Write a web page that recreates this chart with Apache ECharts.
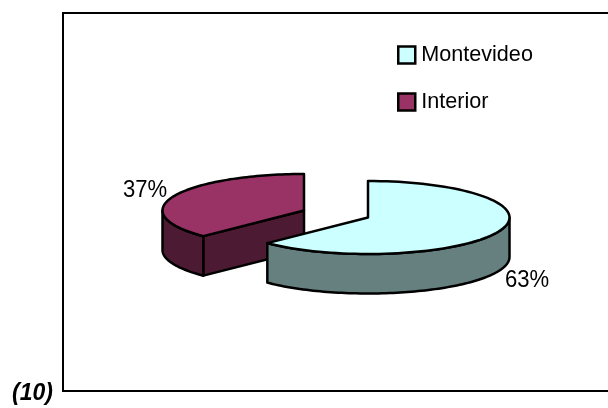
<!DOCTYPE html>
<html><head><meta charset="utf-8">
<style>html,body{margin:0;padding:0;background:#fff}#c{width:608px;height:408px}</style>
<script src="https://cdn.jsdelivr.net/npm/echarts@6/dist/echarts.min.js"></script>
</head><body><div id="c"></div>
<script>
const categories = ['Montevideo', 'Interior'];
const values = [62.6, 37.4];
const note = '(10)';

const topColors = ['#CCFFFF', '#993366'];
const sideColors = ['#668080', '#4D1A33'];
const centers = [[368, 217.5], [304, 210.5]];
const labelPos = [[527, 280], [145, 190]];
const RX = 141.5, RY = 36.5, DEPTH = 39.5;
const FONT = 'Liberation Sans, Arial, sans-serif';
const LINE = { stroke: '#000', lineWidth: 2.5, lineJoin: 'round' };

const total = values.reduce((a, b) => a + b, 0);
function arc(c, from, to) {
  const pts = [], n = 90;
  for (let i = 0; i <= n; i++) {
    const t = (from + (to - from) * i / n) * Math.PI / 180;
    pts.push([c[0] + RX * Math.sin(t), c[1] - RY * Math.cos(t)]);
  }
  return pts;
}
const drop = pts => pts.map(p => [p[0], p[1] + DEPTH]).reverse();
const poly = (points, fill) => ({ type: 'polygon', shape: { points }, style: { fill, ...LINE } });

function renderSlice(params) {
  const i = params.seriesIndex === 0 ? 1 : 0;     // Interior is painted first, Montevideo over it
  const before = values.slice(0, i).reduce((a, b) => a + b, 0);
  const a0 = before / total * 360, a1 = (before + values[i]) / total * 360;
  const c = centers[i], side = sideColors[i], children = [];
  const w0 = Math.max(a0, 90), w1 = Math.min(a1, 270);
  if (a0 > 180 && a0 < 360) {
    const tip = arc(c, a0, a0)[0];
    children.push(poly([c, tip, [tip[0], tip[1] + DEPTH], [c[0], c[1] + DEPTH]], side));
  }
  if (w1 > w0) {
    const rim = arc(c, w0, w1);
    children.push(poly(rim.concat(drop(rim)), side));
  }
  children.push(poly([c].concat(arc(c, a0, a1)), topColors[i]));
  children.push({
    type: 'text',
    x: labelPos[i][0], y: labelPos[i][1], scaleX: 0.92,
    style: {
      text: Math.round(values[i] / total * 100) + '%',
      align: 'center', verticalAlign: 'middle',
      fill: '#000', font: '24px ' + FONT
    }
  });
  return { type: 'group', children };
}

const chart = echarts.init(document.getElementById('c'), null, { renderer: 'canvas' });
chart.setOption({
  animation: false,
  backgroundColor: '#fff',
  legend: {
    left: 397, top: 44, padding: 0, orient: 'vertical', itemWidth: 17, itemHeight: 17, itemGap: 25,
    textStyle: { fontFamily: FONT, fontSize: 21.6, color: '#000', padding: [6, 0, 0, 1] },
    data: categories.map((name, i) => ({
      name, icon: 'rect',
      itemStyle: { color: topColors[i], borderColor: '#000', borderWidth: 2.5 }
    }))
  },
  series: [1, 0].map(i => ({
    type: 'custom', name: categories[i], coordinateSystem: 'none',
    silent: true, data: [values[i]],
    itemStyle: { color: topColors[i] },
    renderItem: renderSlice
  })),
  graphic: [
    { type: 'polyline', z: -1, shape: { points: [[608, 13], [63, 13], [63, 391], [608, 391]] },
      style: { stroke: '#000', lineWidth: 2, fill: null } },
    { type: 'text', left: 12, top: 382,
      style: { text: note, fill: '#000', font: 'italic bold 23px ' + FONT } }
  ]
});
</script></body></html>
